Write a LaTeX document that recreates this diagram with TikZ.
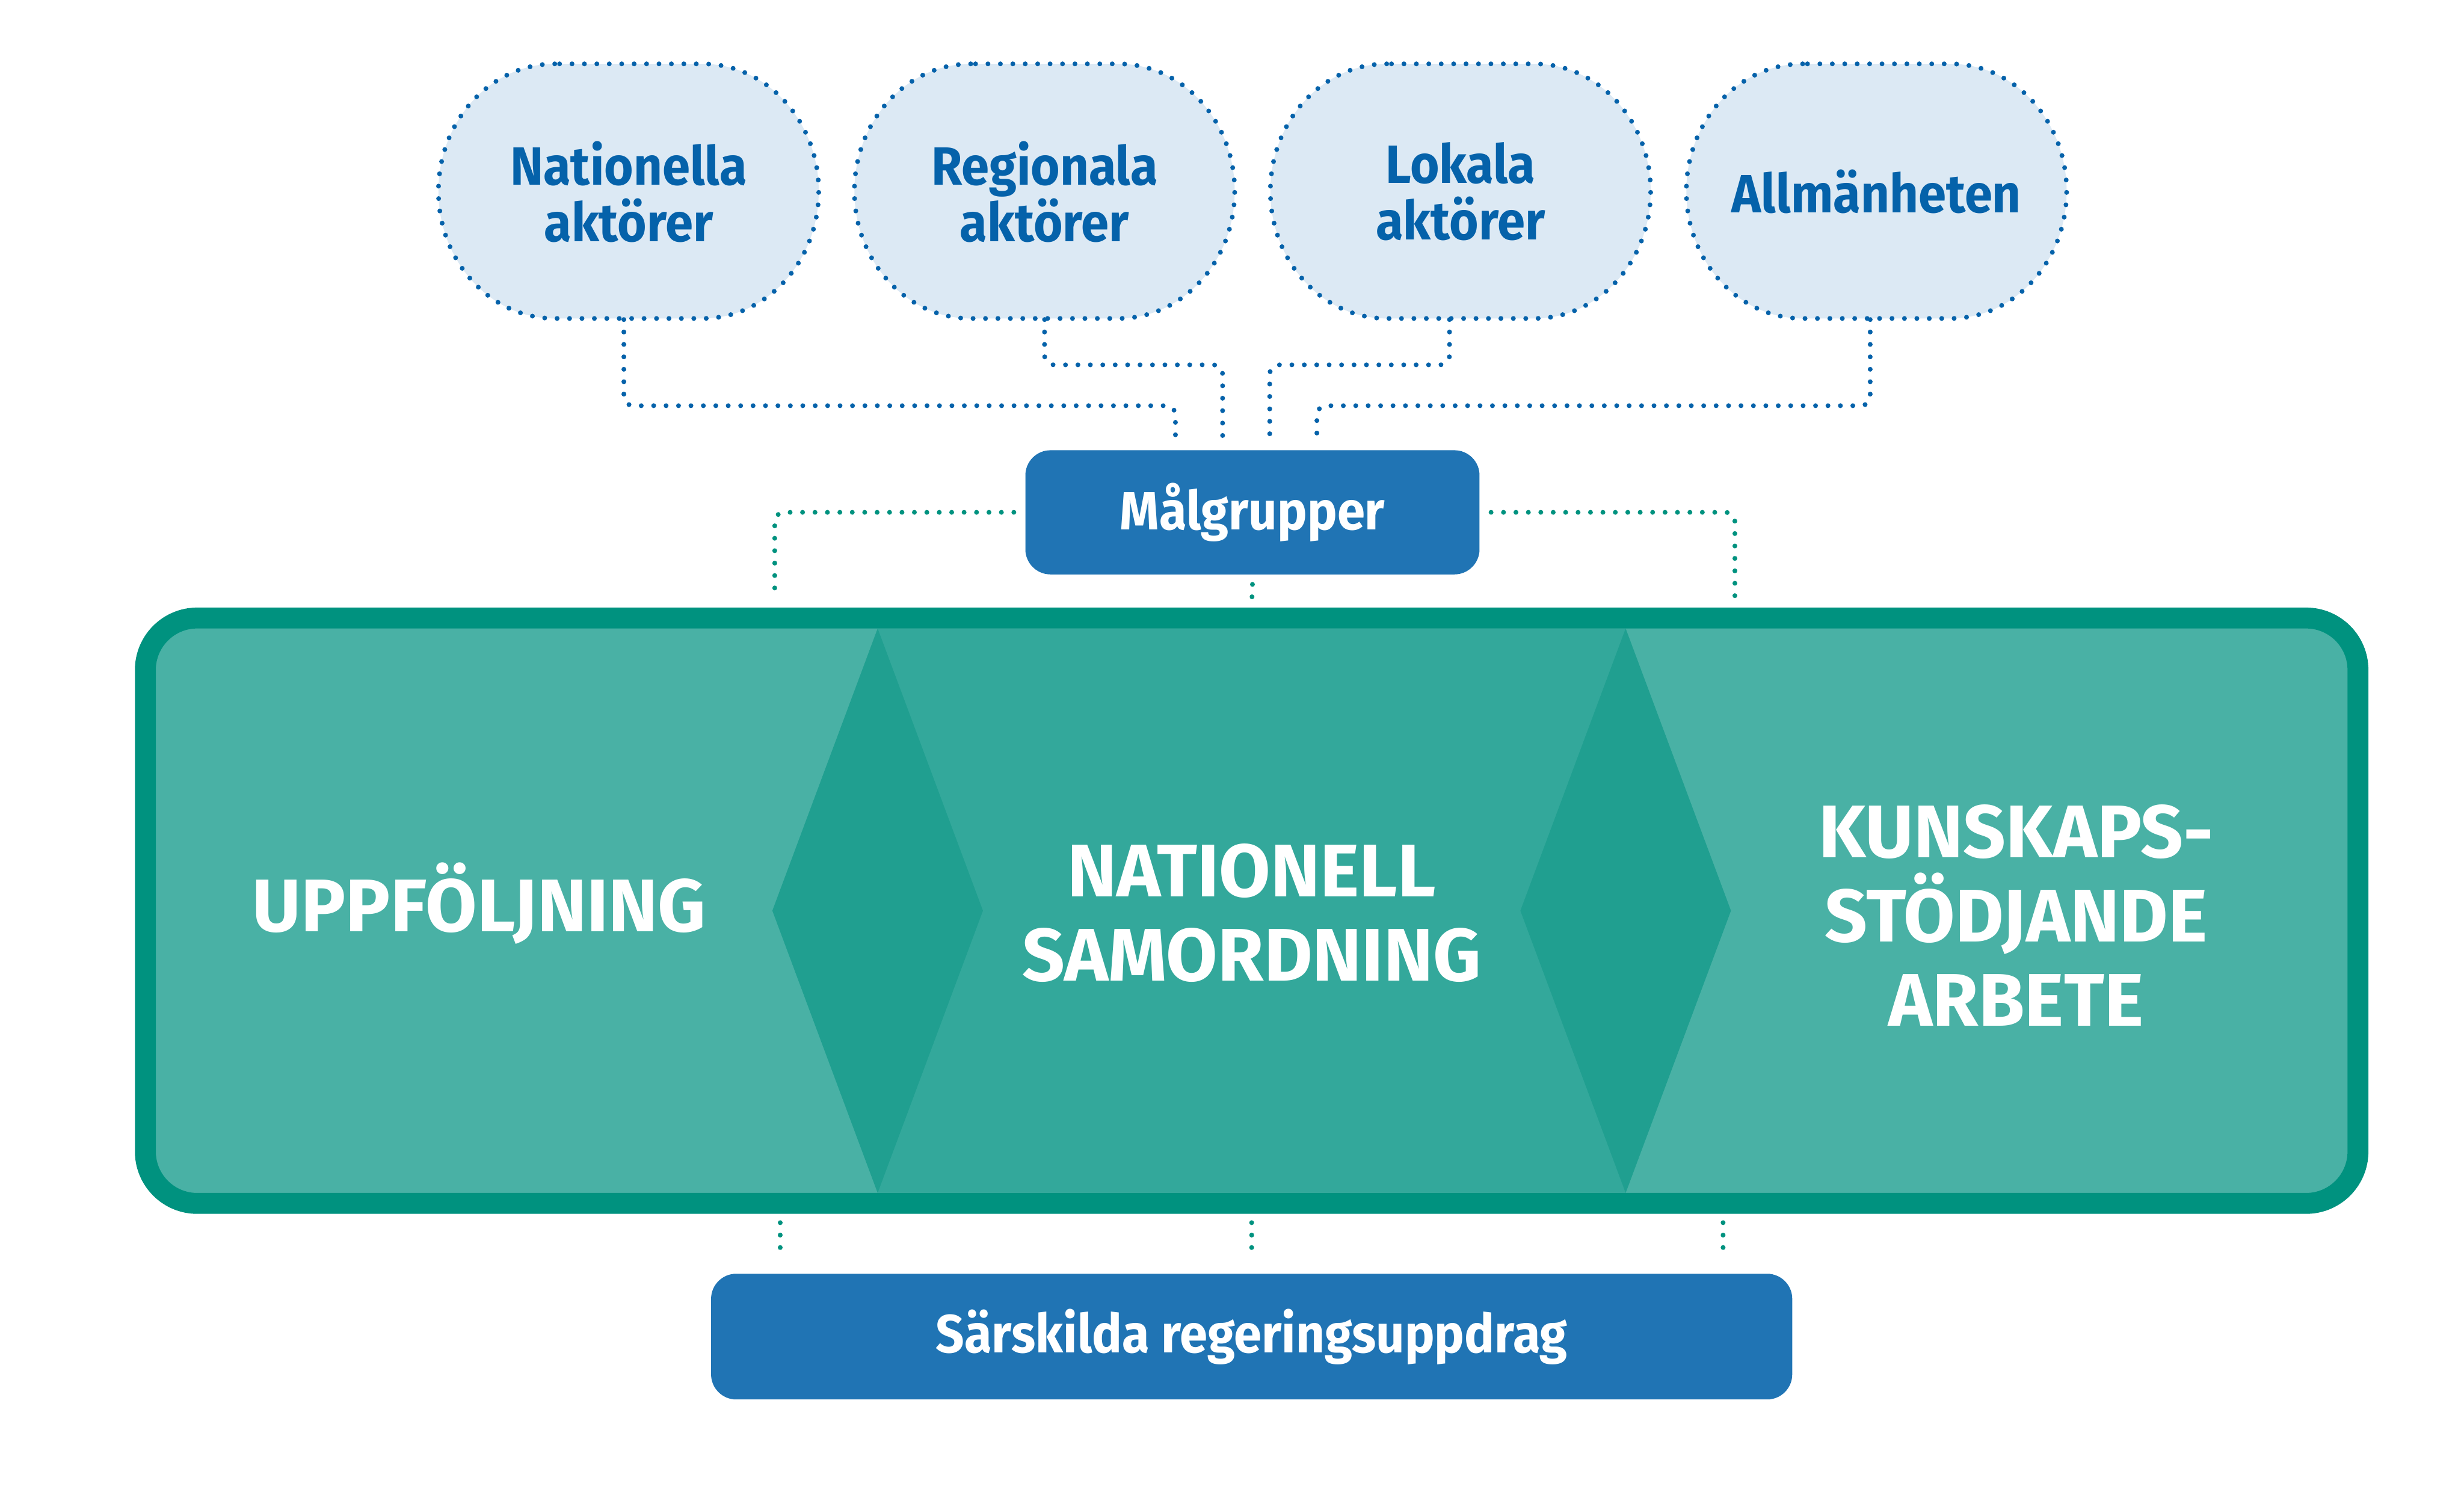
\documentclass[tikz,border=0pt]{standalone}
\usepackage{fontspec}
\setmainfont{Fira Sans}[FakeStretch=0.93]
\newfontfamily\phasefont{Fira Sans}
\usepackage{tikz}
\usetikzlibrary{positioning,calc,backgrounds}

\definecolor{boxblue}{HTML}{2074B4}
\definecolor{inkblue}{HTML}{0562AA}
\definecolor{cloudfill}{HTML}{DCE9F4}
\definecolor{tealline}{HTML}{00927F}
\definecolor{teallight}{HTML}{49B1A5}
\definecolor{tealmid}{HTML}{33A89B}
\definecolor{tealdark}{HTML}{209F90}

\begin{document}
\begin{tikzpicture}[
node distance=0.43cm,
cloud/.style={minimum width=4.85cm, minimum height=3.24cm, inner sep=0pt, align=center, text=inkblue, font=\fontsize{19.5}{20.5}\selectfont\bfseries},
blob/.style={fill=cloudfill, draw=inkblue, line width=1.75pt, line cap=round, dash pattern=on 0pt off 4.5pt},
bluebox/.style={fill=boxblue, rounded corners=0.32cm, text=white, font=\fontsize{19.5}{20.5}\selectfont\bfseries},
phase/.style={text=white, align=center, font=\phasefont\fontsize{27}{30.5}\selectfont\bfseries},
bluedot/.style={draw=inkblue, line width=1.75pt, line cap=round, dash pattern=on 0pt off 4.5pt, rounded corners=0.12cm},
greendot/.style={bluedot, draw=tealline}
]
\useasboundingbox (0,0) rectangle (31.36,-19.14);

% target groups
\node[cloud] (nat) at (8.0,-2.44) {Nationella\\aktörer};
\node[cloud, right=of nat] (reg) {Regionala\\aktörer};
\node[cloud, right=of reg] (lok) {Lokala\\aktörer};
\node[cloud, right=of lok] (all) {Allmänheten};

\begin{scope}[on background layer]
\foreach \c in {nat,reg,lok,all}
  \draw[blob] ($(\c.north)+(-0.94,0)$) arc[start angle=90, end angle=270, x radius=1.48, y radius=1.62]
    -- ++(1.88,0) arc[start angle=-90, end angle=90, x radius=1.48, y radius=1.62] -- cycle;
\end{scope}

\node[bluebox, minimum width=5.78cm, minimum height=1.58cm] (mal) at (15.94,-6.52) {Målgrupper};

% the three parts
\node[draw=tealline, line width=0.266cm, outer sep=0pt, fill=teallight, rounded corners=0.66cm, minimum width=28.16cm, minimum height=7.45cm] (core) at (15.93,-11.59) {};
\fill[tealmid] ($(core.north)+(-4.76,-0.133)$) rectangle ($(core.south)+(4.76,0.133)$);
\fill[tealdark] ($(core.north)+(-4.76,-0.133)$) -- ($(core.center)+(-3.42,0)$) -- ($(core.south)+(-4.76,0.133)$) -- ($(core.center)+(-6.10,0)$) -- cycle;
\fill[tealdark] ($(core.north)+(4.76,-0.133)$) -- ($(core.center)+(6.10,0)$) -- ($(core.south)+(4.76,0.133)$) -- ($(core.center)+(3.42,0)$) -- cycle;

\node[phase] (upp) at ($(core.center)+(-9.83,0.09)$) {UPPFÖLJNING};
\node[phase] (sam) at ($(core.center)+(0,-0.03)$) {NATIONELL\\SAMORDNING};
\node[phase] (kun) at ($(core.center)+(9.73,-0.06)$) {KUNSKAPS-\\STÖDJANDE\\ARBETE};

\node[bluebox, minimum width=13.76cm, minimum height=1.6cm] (sars) at (15.93,-17.01) {Särskilda regeringsuppdrag};

% dotted links
\coordinate (t1) at ($(mal.north)+(-0.98,0.08)$);
\coordinate (t2) at ($(mal.north)+(-0.38,0.08)$);
\coordinate (t3) at ($(mal.north)+(0.22,0.08)$);
\coordinate (t4) at ($(mal.north)+(0.82,0.08)$);
\draw[bluedot] ($(nat.south)+(-0.06,0)$) |- ($(t1)+(0,0.48)$) -- (t1);
\draw[bluedot] (reg.south) |- ($(t2)+(0,1.0)$) -- (t2);
\draw[bluedot] ($(lok.south)+(-0.14,0)$) |- ($(t3)+(0,1.0)$) -- (t3);
\draw[bluedot] ($(all.south)+(-0.08,0)$) |- ($(t4)+(0,0.48)$) -- (t4);

\coordinate (g1) at ($(core.north)+(-6.07,0.27)$);
\coordinate (g2) at ($(core.north)+(6.15,0.27)$);
\draw[greendot] ($(mal.west)+(-0.14,0)$) -| (g1);
\draw[greendot] ($(mal.east)+(0.14,0)$) -| (g2);
\draw[greendot] ($(mal.south)+(0,-0.12)$) -- ($(core.north)+(0,0.13)$);

\foreach \dx in {-6.0,0,6.0}
  \draw[greendot] ($(core.south)+(\dx,-0.245)$) -- ($(sars.north)+(\dx,0.17)$);
\end{tikzpicture}
\end{document}
